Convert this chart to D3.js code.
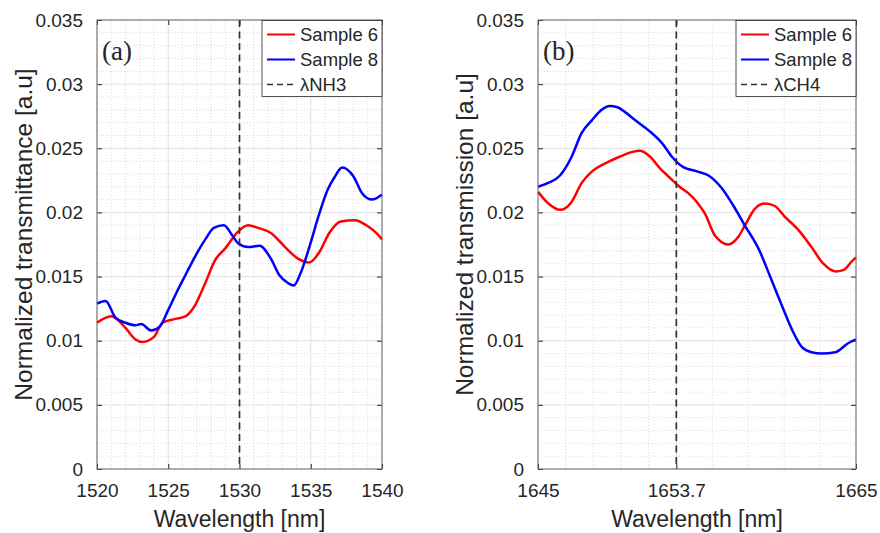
<!DOCTYPE html>
<html>
<head>
<meta charset="utf-8">
<script src="https://cdn.jsdelivr.net/npm/d3@7"></script>
<style>
  body { margin: 0; background: #fff; }
  text { font-family: "Liberation Sans", Arial, sans-serif; fill: #262626; }
</style>
</head>
<body>
<svg id="chart"></svg>
<script>
// ---- panel (a): NH3 band ----
const nh3Wave6 = [1520, 1521, 1522, 1522.7, 1523.2, 1524, 1524.6, 1525.5, 1526.2, 1526.9, 1527.6, 1528.3, 1529, 1529.9,
  1530.6, 1531.3, 1532.2, 1533.2, 1534.1, 1534.9, 1535.6, 1536.3, 1537.1, 1538.1, 1538.9, 1539.6, 1540];
const nh3Sample6 = [0.0114, 0.0119, 0.0110, 0.0101, 0.0099, 0.0103, 0.0114, 0.0117, 0.0119, 0.0128, 0.0145, 0.0163, 0.0172, 0.0185,
  0.0190, 0.0188, 0.0184, 0.0173, 0.0164, 0.0161, 0.0169, 0.0184, 0.0193, 0.0194, 0.0190, 0.0184, 0.0179];
const nh3Wave8 = [1520, 1520.6, 1521.3, 1522, 1522.7, 1523.1, 1523.8, 1524.4, 1525, 1525.6, 1526.2, 1526.9, 1527.6, 1528.2,
  1528.9, 1529.5, 1529.9, 1530.6, 1531.4, 1532.2, 1532.8, 1533.4, 1533.8, 1534.3, 1534.9, 1535.6, 1536.2, 1536.7,
  1537.2, 1538, 1538.6, 1539.3, 1540];
const nh3Sample8 = [0.0129, 0.0131, 0.0118, 0.0114, 0.0112, 0.0113, 0.0108, 0.0111, 0.0124, 0.0138, 0.0151, 0.0166, 0.0179, 0.0188,
  0.0190, 0.0182, 0.0176, 0.0173, 0.0174, 0.0164, 0.0151, 0.0145, 0.0143, 0.0153, 0.0173, 0.0199, 0.0218, 0.0228,
  0.0235, 0.0228, 0.0215, 0.0210, 0.0214];
const nh3XTicks = [1520, 1525, 1530, 1535, 1540];
const nh3Line = 1530;

// ---- panel (b): CH4 band ----
const ch4Wave6 = [1645, 1645.65, 1646.4, 1647.1, 1647.75, 1648.4, 1649.2, 1650.05, 1650.9, 1651.4, 1652, 1652.7, 1653.3,
  1653.8, 1654.45, 1655, 1655.5, 1656.13, 1656.97, 1657.6, 1658.02, 1658.65, 1659.28, 1659.9, 1660.5, 1661.4, 1662.2,
  1662.95, 1663.7, 1664.2, 1664.75, 1665];
const ch4Sample6 = [0.0216, 0.0207, 0.0202, 0.0208, 0.0223, 0.0232, 0.0238, 0.0243, 0.0247, 0.0248, 0.0244, 0.0234, 0.0227,
  0.0221, 0.0215, 0.0208, 0.0199, 0.0182, 0.0175, 0.0181, 0.0190, 0.0203, 0.0207, 0.0205, 0.0197, 0.0186, 0.0173,
  0.0160, 0.0154, 0.0155, 0.0162, 0.0165];
const ch4Wave8 = [1645, 1645.65, 1646.4, 1647.1, 1647.75, 1648.4, 1649, 1649.5, 1650, 1650.5, 1651.1, 1651.95, 1652.8, 1653.45,
  1654.05, 1655, 1655.7, 1656.55, 1657.3, 1658, 1658.9, 1659.6, 1660.35, 1661, 1661.6, 1662.2, 1662.85, 1663.7,
  1664.5, 1665];
const ch4Sample8 = [0.0220, 0.0223, 0.0229, 0.0243, 0.0262, 0.0272, 0.0280, 0.0283, 0.0282, 0.0278, 0.0272, 0.0264, 0.0254, 0.0243,
  0.0236, 0.0232, 0.0229, 0.0219, 0.0205, 0.0190, 0.0171, 0.0150, 0.0127, 0.0108, 0.0095, 0.0091, 0.0090, 0.0091,
  0.0098, 0.0101];
const ch4XTicks = [1645, 1653.7, 1665];
const ch4Line = 1653.7;

// shared y ticks
const yTicks = [0, 0.005, 0.01, 0.015, 0.02, 0.025, 0.03, 0.035];

const svg = d3.select('#chart').attr('width', 880).attr('height', 533);

createPanel(svg, {
  x: 97, y: 20, width: 285, height: 449,
  tag: '(a)', yLabel: 'Normalized transmittance [a.u]', lineName: '\u03bbNH3',
  xTicks: nh3XTicks, marker: nh3Line,
  series: [
    { name: 'Sample 6', color: '#ff0000', xs: nh3Wave6, ys: nh3Sample6 },
    { name: 'Sample 8', color: '#0000ff', xs: nh3Wave8, ys: nh3Sample8 }
  ]
});

createPanel(svg, {
  x: 538, y: 20, width: 318, height: 449,
  tag: '(b)', yLabel: 'Normalized transmission [a.u]', lineName: '\u03bbCH4',
  xTicks: ch4XTicks, marker: ch4Line,
  series: [
    { name: 'Sample 6', color: '#ff0000', xs: ch4Wave6, ys: ch4Sample6 },
    { name: 'Sample 8', color: '#0000ff', xs: ch4Wave8, ys: ch4Sample8 }
  ]
});

// minor ticks: each major interval split in 5
function minorTicks(major) {
  const out = [];
  for (let i = 0; i < major.length - 1; i++) {
    const step = (major[i + 1] - major[i]) / 5;
    for (let k = 1; k < 5; k++) out.push(major[i] + k * step);
  }
  return out;
}

function createPanel(svg, cfg) {
  const g = svg.append('g').attr('transform', `translate(${cfg.x},${cfg.y})`);
  const xs = cfg.xTicks;
  const x = d3.scaleLinear().domain([xs[0], xs[xs.length - 1]]).range([0, cfg.width]);
  const y = d3.scaleLinear().domain([0, 0.035]).range([cfg.height, 0]);

  // grid: dotted minor, solid major
  const grid = g.append('g');
  minorTicks(xs).forEach(v => grid.append('line')
    .attr('x1', x(v)).attr('x2', x(v)).attr('y1', 0).attr('y2', cfg.height)
    .attr('stroke', '#dadada').attr('stroke-dasharray', '1,2'));
  minorTicks(yTicks).forEach(v => grid.append('line')
    .attr('x1', 0).attr('x2', cfg.width).attr('y1', y(v)).attr('y2', y(v))
    .attr('stroke', '#dadada').attr('stroke-dasharray', '1,2'));
  xs.forEach(v => grid.append('line')
    .attr('x1', x(v)).attr('x2', x(v)).attr('y1', 0).attr('y2', cfg.height)
    .attr('stroke', '#e0e0e0'));
  yTicks.forEach(v => grid.append('line')
    .attr('x1', 0).attr('x2', cfg.width).attr('y1', y(v)).attr('y2', y(v))
    .attr('stroke', '#e0e0e0'));

  // data lines
  const line = d3.line().curve(d3.curveMonotoneX);
  cfg.series.forEach(s => {
    g.append('path')
      .datum(s.xs.map((v, i) => [x(v), y(s.ys[i])]))
      .attr('d', line)
      .attr('fill', 'none')
      .attr('stroke', s.color)
      .attr('stroke-width', 2.5)
      .attr('stroke-linejoin', 'round');
  });

  // gas line marker
  g.append('line')
    .attr('x1', x(cfg.marker)).attr('x2', x(cfg.marker))
    .attr('y1', 0).attr('y2', cfg.height)
    .attr('stroke', '#333').attr('stroke-width', 1.7)
    .attr('stroke-dasharray', '7,4.5');

  // axes with inward ticks on all four sides
  const axisStyle = sel => {
    sel.select('.domain').remove();
    sel.selectAll('.tick line').attr('stroke', '#262626');
    sel.selectAll('.tick text').style('font-size', '19px').attr('fill', '#262626');
  };
  g.append('g').attr('transform', `translate(0,${cfg.height})`)
    .call(d3.axisBottom(x).tickValues(xs).tickFormat(d => String(d)).tickSizeInner(-5).tickSizeOuter(0).tickPadding(15))
    .call(axisStyle);
  g.append('g')
    .call(d3.axisTop(x).tickValues(xs).tickFormat('').tickSizeInner(-5).tickSizeOuter(0))
    .call(axisStyle);
  g.append('g')
    .call(d3.axisLeft(y).tickValues(yTicks).tickFormat(d => String(d)).tickSizeInner(-5).tickSizeOuter(0).tickPadding(14))
    .call(axisStyle);
  g.append('g').attr('transform', `translate(${cfg.width},0)`)
    .call(d3.axisRight(y).tickValues(yTicks).tickFormat('').tickSizeInner(-5).tickSizeOuter(0))
    .call(axisStyle);

  g.append('rect')
    .attr('width', cfg.width).attr('height', cfg.height)
    .attr('fill', 'none').attr('stroke', '#6a6a6a').attr('stroke-width', 1);

  // axis labels
  g.append('text')
    .attr('x', cfg.width / 2).attr('y', cfg.height + 58)
    .attr('text-anchor', 'middle').style('font-size', '23px')
    .text('Wavelength [nm]');
  g.append('text')
    .attr('transform', `translate(${-65},${cfg.height / 2 - 10}) rotate(-90)`)
    .attr('text-anchor', 'middle').style('font-size', '24.5px')
    .text(cfg.yLabel);

  // panel tag
  g.append('text')
    .attr('x', 5).attr('y', 40)
    .style('font-family', '"Liberation Serif", "Times New Roman", serif')
    .style('font-size', '27px')
    .text(cfg.tag);

  // legend
  const lw = 120, lh = 76;
  const leg = g.append('g').attr('transform', `translate(${cfg.width - lw},0.5)`);
  leg.append('rect').attr('width', lw).attr('height', lh)
    .attr('fill', '#fff').attr('stroke', '#262626').attr('stroke-width', 0.8);
  const items = cfg.series.map(s => ({ name: s.name, color: s.color, dash: null }))
    .concat([{ name: cfg.lineName, color: '#333', dash: '6,4' }]);
  items.forEach((it, i) => {
    const cy = 14 + 25 * i;
    leg.append('line')
      .attr('x1', 5).attr('x2', 33).attr('y1', cy).attr('y2', cy)
      .attr('stroke', it.color).attr('stroke-width', it.dash ? 1.6 : 2)
      .attr('stroke-dasharray', it.dash);
    leg.append('text')
      .attr('x', 38).attr('y', cy + 6.5)
      .style('font-size', '18.5px')
      .text(it.name);
  });
}
</script>
</body>
</html>
